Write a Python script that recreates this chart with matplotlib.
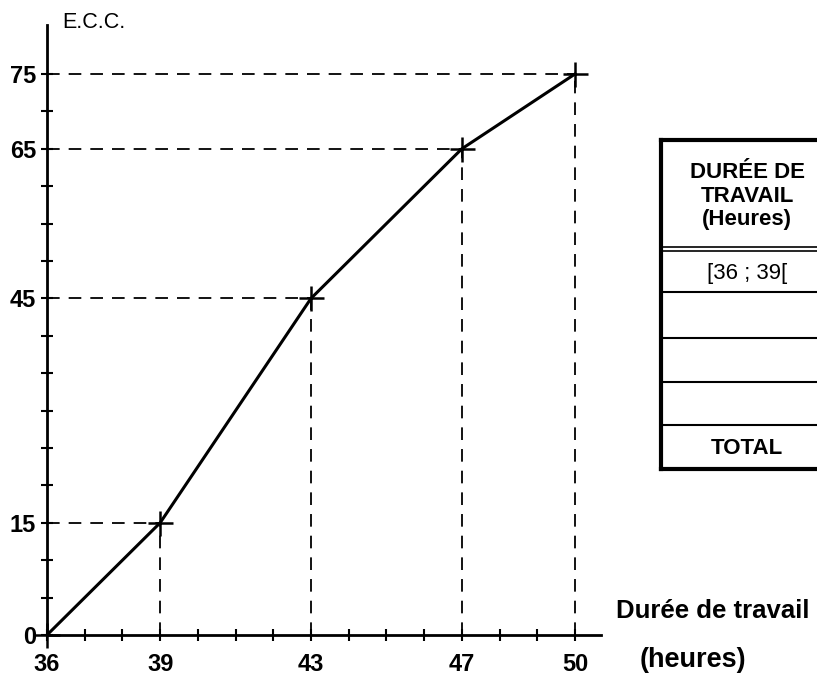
import matplotlib
matplotlib.use("Agg")
import matplotlib.pyplot as plt
from matplotlib.lines import Line2D
from matplotlib import font_manager
import numpy as np

# data
durees = [36, 39, 43, 47, 50]
ecc = [0, 15, 45, 65, 75]
x_ticks = [36, 39, 43, 47, 50]
y_ticks = [0, 15, 45, 65, 75]
tab_header = "DURÉE DE\nTRAVAIL\n(Heures)"
tab_rows = ["[36 ; 39[", "", "", "", "TOTAL"]

names = {f.name for f in font_manager.fontManager.ttflist}
fam = "Liberation Sans Narrow" if "Liberation Sans Narrow" in names else "Liberation Sans"
plt.rcParams['font.family'] = [fam, 'DejaVu Sans']

W, H = 817, 677
fig = plt.figure(figsize=(W / 100, H / 100), dpi=100)

def fx(px):
    return px / W

def fy(py):
    return 1 - py / H

# axes: x 36 at px 47, 50 at px 575 ; y 0 at px 635, 75 at px 74
x0, x1 = 36, 50.7
y0, y1 = 0, 81.5
px_x0 = 47
px_x1 = 47 + (x1 - 36) * (575 - 47) / 14
py_y0 = 635
py_y1 = 635 - y1 * (635 - 74) / 75
ax = fig.add_axes([fx(px_x0), fy(py_y0), fx(px_x1) - fx(px_x0), fy(py_y1) - fy(py_y0)])
ax.set_xlim(x0, x1)
ax.set_ylim(y0, y1)
for s in ["top", "right"]:
    ax.spines[s].set_visible(False)
for s in ["left", "bottom"]:
    ax.spines[s].set_linewidth(2)
ax.patch.set_alpha(0)

ax.set_xticks(x_ticks)
ax.set_yticks(y_ticks)
ax.set_xticks(np.arange(36, 51), minor=True)
ax.set_yticks(np.arange(0, 80, 5), minor=True)
ax.tick_params(which="both", direction="inout", length=8, width=1.5)
ax.tick_params(axis="x", which="major", pad=9, labelsize=17)
ax.tick_params(axis="y", which="major", pad=4, labelsize=17)
for lab in ax.get_xticklabels() + ax.get_yticklabels():
    lab.set_fontweight("bold")

# dashed projections
for xv, yv in zip(durees[1:], ecc[1:]):
    ax.plot([x0, xv], [yv, yv], color="black", lw=1.3, dashes=(7, 5), clip_on=False)
    ax.plot([xv, xv], [y0, yv], color="black", lw=1.3, dashes=(7, 5), clip_on=False)

ax.plot(durees, ecc, color="black", lw=2.2, marker="+", markersize=18,
        markeredgewidth=1.8, clip_on=False, zorder=5)

fig.text(fx(62), fy(22), "E.C.C.", fontsize=15.5, ha="left", va="center")
fig.text(fx(616), fy(611), "Durée de travail", fontsize=18.5, fontweight="bold",
         ha="left", va="center", family=["Liberation Sans", "DejaVu Sans"])
fig.text(fx(640), fy(660), "(heures)", fontsize=19.5, fontweight="bold",
         ha="left", va="center", family=["Liberation Sans", "DejaVu Sans"])

# table on the right (cut by the border)
tl, tr = 661, 818
ttop, tbot = 140, 469
row_lines = [250, 292, 338, 382, 425, 469]

def hline(py, lw):
    fig.add_artist(Line2D([fx(tl), fx(tr)], [fy(py), fy(py)], color="black", lw=lw,
                          transform=fig.transFigure))

fig.add_artist(Line2D([fx(tl), fx(tl)], [fy(ttop), fy(tbot)], color="black", lw=3,
                      transform=fig.transFigure))
hline(ttop, 3)
hline(tbot, 3)
hline(247, 1.2)
hline(251, 1.2)
for py in row_lines[1:-1]:
    hline(py, 1.5)

cx = 747
fig.text(fx(cx), fy(196), tab_header, fontsize=16, fontweight="bold", ha="center",
         va="center", linespacing=1.15)
tops = [250] + row_lines[1:-1]
bots = row_lines[1:]
for t, b, lab in zip(tops, bots, tab_rows):
    if lab:
        fig.text(fx(cx), fy((t + b) / 2 + 2), lab, fontsize=16,
                 fontweight="bold" if lab == "TOTAL" else "normal",
                 ha="center", va="center")

fig.savefig("out.png", dpi=100)
